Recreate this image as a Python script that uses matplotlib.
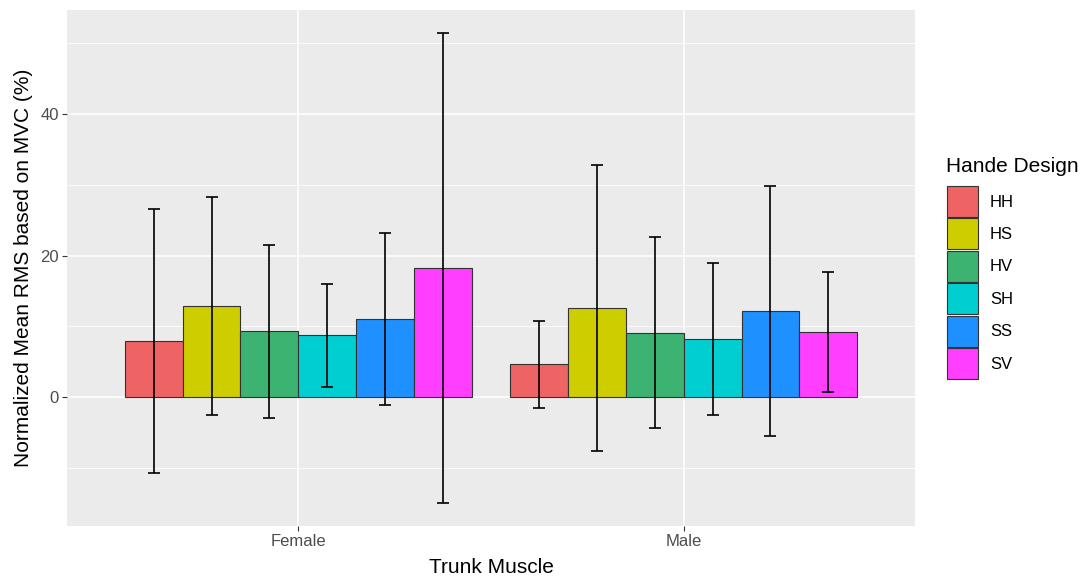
import matplotlib

matplotlib.use("Agg")
import matplotlib.pyplot as plt
import numpy as np
from matplotlib.patches import Patch

plt.rcParams["font.family"] = ["Liberation Sans", "DejaVu Sans"]

MUSCLES = ["Female", "Male"]
DESIGNS = ["HH", "HS", "HV", "SH", "SS", "SV"]
COLORS = ["#EE6363", "#CDCD00", "#3CB371", "#00CED1", "#1E90FF", "#FF3EFF"]

# mean and SD per design
FEMALE_MEAN = [7.95, 12.9, 9.35, 8.75, 11.05, 18.25]
FEMALE_SD = [18.65, 15.4, 12.2, 7.25, 12.1, 33.1]
MALE_MEAN = [4.65, 12.63, 9.1, 8.2, 12.2, 9.2]
MALE_SD = [6.15, 20.2, 13.5, 10.7, 17.67, 8.45]

PANEL = "#EBEBEB"
TICK_TXT = "#4D4D4D"
EDGE = "#333333"

means = np.array([FEMALE_MEAN, MALE_MEAN])
sds = np.array([FEMALE_SD, MALE_SD])

fig = plt.figure(figsize=(10.83, 5.76), dpi=100)
ax = fig.add_axes([67 / 1083, 50 / 576, 848 / 1083, 516 / 576])
ax.set_facecolor(PANEL)

x = np.arange(len(MUSCLES))
w = 0.9 / len(DESIGNS)
for i, (d, c) in enumerate(zip(DESIGNS, COLORS)):
    xs = x + (i - (len(DESIGNS) - 1) / 2) * w
    ax.bar(xs, means[:, i], width=w, color=c, edgecolor=EDGE,
           linewidth=0.8, zorder=3)
    ax.errorbar(xs, means[:, i], yerr=sds[:, i], fmt="none", ecolor="black",
                elinewidth=1.2, capsize=4.3, capthick=1.2, zorder=4)

# ggplot-style limits: 5% expansion on y, 0.6 units on discrete x
lo = (means - sds).min()
hi = (means + sds).max()
pad = (hi - lo) * 0.05
ax.set_ylim(lo - pad, hi + pad)
ax.set_xlim(-0.6, len(MUSCLES) - 0.4)

ax.set_yticks([0, 20, 40])
ax.set_yticks([-10, 10, 30, 50], minor=True)
ax.set_xticks(x)
ax.set_xticklabels(MUSCLES)
ax.grid(which="major", color="white", linewidth=1.1, zorder=0)
ax.grid(which="minor", axis="y", color="white", linewidth=0.55, zorder=0)
ax.set_axisbelow(True)
for s in ax.spines.values():
    s.set_visible(False)
ax.tick_params(which="major", length=3.5, width=0.8, color=EDGE,
               labelcolor=TICK_TXT, labelsize=12, pad=2.5)
ax.tick_params(which="minor", length=0)

ax.set_xlabel("Trunk Muscle", fontsize=15, labelpad=6)
ax.set_ylabel("Normalized Mean RMS based on MVC (%)", fontsize=15, labelpad=5)

# legend: title placed on its own, keys sized like ggplot's
fig.text(946 / 1083, 1 - 167 / 576, "Hande Design", fontsize=15,
         ha="left", va="center")
handles = [Patch(facecolor=c, edgecolor=EDGE, linewidth=0.8) for c in COLORS]
fig.legend(handles, DESIGNS, loc="upper left",
           bbox_to_anchor=(947 / 1083, 1 - 186 / 576), frameon=False,
           fontsize=12, handlelength=1.86, handleheight=2.48,
           labelspacing=0.09, handletextpad=0.72, borderpad=0,
           borderaxespad=0)

fig.savefig("out.png", dpi=100, facecolor="white")
